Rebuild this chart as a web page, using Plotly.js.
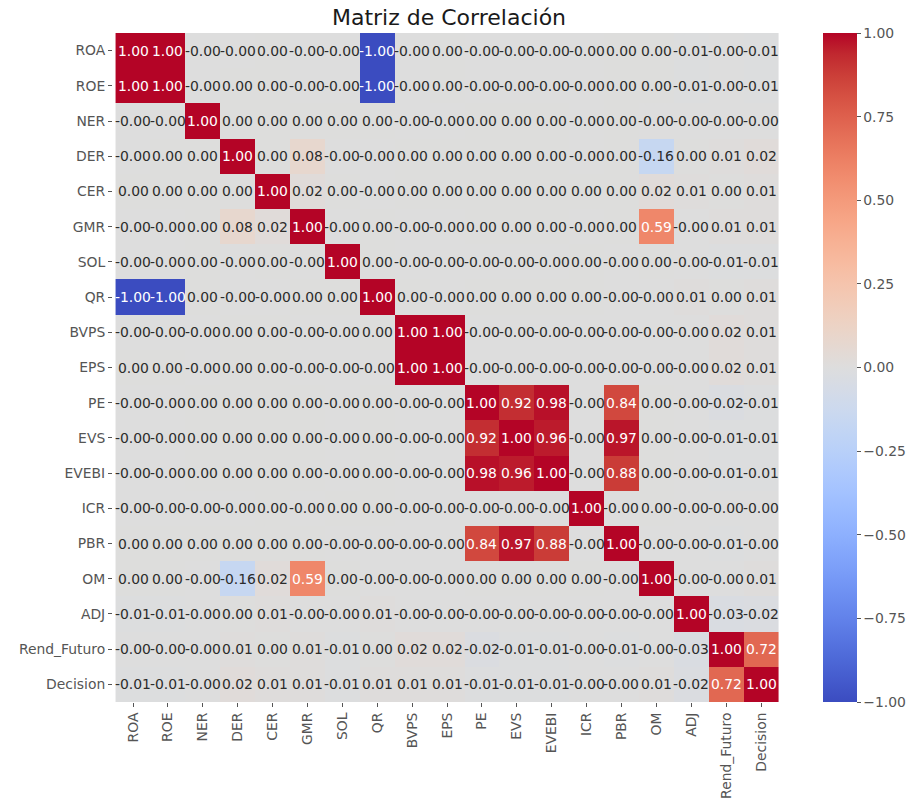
<!DOCTYPE html>
<html>
<head>
<meta charset="utf-8">
<script src="https://cdn.plot.ly/plotly-3.0.1.min.js"></script>
<style>html,body{margin:0;padding:0;background:#fff;}#chart{width:918px;height:809px;}</style>
</head>
<body>
<div id="chart"></div>
<script>
// Labels
const labels = ["ROA","ROE","NER","DER","CER","GMR","SOL","QR","BVPS","EPS","PE","EVS","EVEBI","ICR","PBR","OM","ADJ","Rend_Futuro","Decision"];

// Correlation matrix rows (±0.003 stand for displayed "0.00" / "-0.00")
const rowROA   = [1.00, 1.00, -0.003, -0.003, 0.003, -0.003, -0.003, -1.00, -0.003, 0.003, -0.003, -0.003, -0.003, -0.003, 0.003, 0.003, -0.01, -0.003, -0.01];
const rowROE   = [1.00, 1.00, -0.003, 0.003, 0.003, -0.003, -0.003, -1.00, -0.003, 0.003, -0.003, -0.003, -0.003, -0.003, 0.003, 0.003, -0.01, -0.003, -0.01];
const rowNER   = [-0.003, -0.003, 1.00, 0.003, 0.003, 0.003, 0.003, 0.003, -0.003, -0.003, 0.003, 0.003, 0.003, -0.003, 0.003, -0.003, -0.003, -0.003, -0.003];
const rowDER   = [-0.003, 0.003, 0.003, 1.00, 0.003, 0.08, -0.003, -0.003, 0.003, 0.003, 0.003, 0.003, 0.003, -0.003, 0.003, -0.16, 0.003, 0.01, 0.02];
const rowCER   = [0.003, 0.003, 0.003, 0.003, 1.00, 0.02, 0.003, -0.003, 0.003, 0.003, 0.003, 0.003, 0.003, 0.003, 0.003, 0.02, 0.01, 0.003, 0.01];
const rowGMR   = [-0.003, -0.003, 0.003, 0.08, 0.02, 1.00, -0.003, 0.003, -0.003, -0.003, 0.003, 0.003, 0.003, -0.003, 0.003, 0.59, -0.003, 0.01, 0.01];
const rowSOL   = [-0.003, -0.003, 0.003, -0.003, 0.003, -0.003, 1.00, 0.003, -0.003, -0.003, -0.003, -0.003, -0.003, 0.003, -0.003, 0.003, -0.003, -0.01, -0.01];
const rowQR    = [-1.00, -1.00, 0.003, -0.003, -0.003, 0.003, 0.003, 1.00, 0.003, -0.003, 0.003, 0.003, 0.003, 0.003, -0.003, -0.003, 0.01, 0.003, 0.01];
const rowBVPS  = [-0.003, -0.003, -0.003, 0.003, 0.003, -0.003, -0.003, 0.003, 1.00, 1.00, -0.003, -0.003, -0.003, -0.003, -0.003, -0.003, -0.003, 0.02, 0.01];
const rowEPS   = [0.003, 0.003, -0.003, 0.003, 0.003, -0.003, -0.003, -0.003, 1.00, 1.00, -0.003, -0.003, -0.003, -0.003, -0.003, -0.003, -0.003, 0.02, 0.01];
const rowPE    = [-0.003, -0.003, 0.003, 0.003, 0.003, 0.003, -0.003, 0.003, -0.003, -0.003, 1.00, 0.92, 0.98, -0.003, 0.84, 0.003, -0.003, -0.02, -0.01];
const rowEVS   = [-0.003, -0.003, 0.003, 0.003, 0.003, 0.003, -0.003, 0.003, -0.003, -0.003, 0.92, 1.00, 0.96, -0.003, 0.97, 0.003, -0.003, -0.01, -0.01];
const rowEVEBI = [-0.003, -0.003, 0.003, 0.003, 0.003, 0.003, -0.003, 0.003, -0.003, -0.003, 0.98, 0.96, 1.00, -0.003, 0.88, 0.003, -0.003, -0.01, -0.01];
const rowICR   = [-0.003, -0.003, -0.003, -0.003, 0.003, -0.003, 0.003, 0.003, -0.003, -0.003, -0.003, -0.003, -0.003, 1.00, -0.003, 0.003, -0.003, -0.003, -0.003];
const rowPBR   = [0.003, 0.003, 0.003, 0.003, 0.003, 0.003, -0.003, -0.003, -0.003, -0.003, 0.84, 0.97, 0.88, -0.003, 1.00, -0.003, -0.003, -0.01, -0.003];
const rowOM    = [0.003, 0.003, -0.003, -0.16, 0.02, 0.59, 0.003, -0.003, -0.003, -0.003, 0.003, 0.003, 0.003, 0.003, -0.003, 1.00, -0.003, -0.003, 0.01];
const rowADJ   = [-0.01, -0.01, -0.003, 0.003, 0.01, -0.003, -0.003, 0.01, -0.003, -0.003, -0.003, -0.003, -0.003, -0.003, -0.003, -0.003, 1.00, -0.03, -0.02];
const rowRF    = [-0.003, -0.003, -0.003, 0.01, 0.003, 0.01, -0.01, 0.003, 0.02, 0.02, -0.02, -0.01, -0.01, -0.003, -0.01, -0.003, -0.03, 1.00, 0.72];
const rowDEC   = [-0.01, -0.01, -0.003, 0.02, 0.01, 0.01, -0.01, 0.01, 0.01, 0.01, -0.01, -0.01, -0.01, -0.003, -0.003, 0.01, -0.02, 0.72, 1.00];

const z = [rowROA,rowROE,rowNER,rowDER,rowCER,rowGMR,rowSOL,rowQR,rowBVPS,rowEPS,rowPE,rowEVS,rowEVEBI,rowICR,rowPBR,rowOM,rowADJ,rowRF,rowDEC];

// Colorbar ticks
const cbTickVals = [-1, -0.75, -0.5, -0.25, 0, 0.25, 0.5, 0.75, 1];
const cbTickText = ["\u22121.00","\u22120.75","\u22120.50","\u22120.25","0.00","0.25","0.50","0.75","1.00"];

// coolwarm colormap (Moreland)
const cw = [[59,76,192],[68,90,204],[77,104,215],[87,117,225],[98,130,234],[108,142,241],[119,154,247],[130,165,251],[141,176,254],[152,185,255],[163,194,255],[174,201,253],[184,208,249],[194,213,244],[204,217,238],[213,219,230],[221,221,221],[229,216,209],[236,211,197],[241,204,185],[245,196,173],[247,187,160],[247,177,148],[247,166,135],[244,154,123],[241,141,111],[236,127,99],[229,112,88],[222,96,77],[213,80,66],[203,62,56],[192,40,47],[180,4,38]];
const colorscale = cw.map((c,i)=>[i/(cw.length-1), `rgb(${c[0]},${c[1]},${c[2]})`]);

function colorAt(v){
  const t = (v+1)/2*(cw.length-1);
  const i = Math.max(0, Math.min(cw.length-2, Math.floor(t)));
  const f = t - i;
  return cw[i].map((c,k)=>c+(cw[i+1][k]-c)*f);
}
function lum(rgb){
  const l = rgb.map(c=>{c/=255; return c<=0.03928? c/12.92 : Math.pow((c+0.055)/1.055,2.4);});
  return 0.2126*l[0]+0.7152*l[1]+0.0722*l[2];
}

const annotations = [];
for(let r=0;r<labels.length;r++){
  for(let c=0;c<labels.length;c++){
    const v = z[r][c];
    const col = lum(colorAt(v)) > 0.408 ? '#2b2b2b' : '#ffffff';
    annotations.push({x: labels[c], y: labels[r], text: v.toFixed(2), showarrow: false,
      font: {family: 'DejaVu Sans', size: 13.9, color: col}, xref: 'x', yref: 'y'});
  }
}

const data = [{
  type: 'heatmap', z: z, x: labels, y: labels,
  zmin: -1, zmax: 1, colorscale: colorscale, xgap: 0, ygap: 0, hoverinfo: 'skip',
  colorbar: {
    x: (827-113)/672, xanchor: 'left', xpad: 0, ypad: 0,
    y: 0.5, yanchor: 'middle', len: 669, lenmode: 'pixels', thickness: 34,
    outlinewidth: 0, tickmode: 'array', tickvals: cbTickVals, ticktext: cbTickText,
    ticks: 'outside', ticklen: 4, tickwidth: 1, tickcolor: '#555555',
    tickfont: {family: 'DejaVu Sans', size: 13.9, color: '#555555'}
  }
}];

const layout = {
  width: 918, height: 809,
  margin: {l: 113, r: 133, t: 33, b: 107, pad: 0},
  paper_bgcolor: '#ffffff', plot_bgcolor: '#ffffff',
  title: {text: 'Matriz de Correlación', x: 449/918, xanchor: 'center', y: 1-17/809, yanchor: 'middle', yref: 'container',
    font: {family: 'DejaVu Sans', size: 22, color: '#1a1a1a'}},
  xaxis: {type: 'category', tickangle: -90, ticks: 'outside', ticklen: 4, tickwidth: 1, tickcolor: '#555555',
    tickfont: {family: 'DejaVu Sans', size: 13.9, color: '#555555'}, showgrid: false, zeroline: false, showline: false, fixedrange: true},
  yaxis: {type: 'category', autorange: 'reversed', ticks: 'outside', ticklen: 4, tickwidth: 1, tickcolor: '#555555',
    tickfont: {family: 'DejaVu Sans', size: 13.9, color: '#555555'}, showgrid: false, zeroline: false, showline: false, fixedrange: true},
  annotations: annotations
};

Plotly.newPlot('chart', data, layout, {displayModeBar: false, staticPlot: true});
</script>
</body>
</html>
